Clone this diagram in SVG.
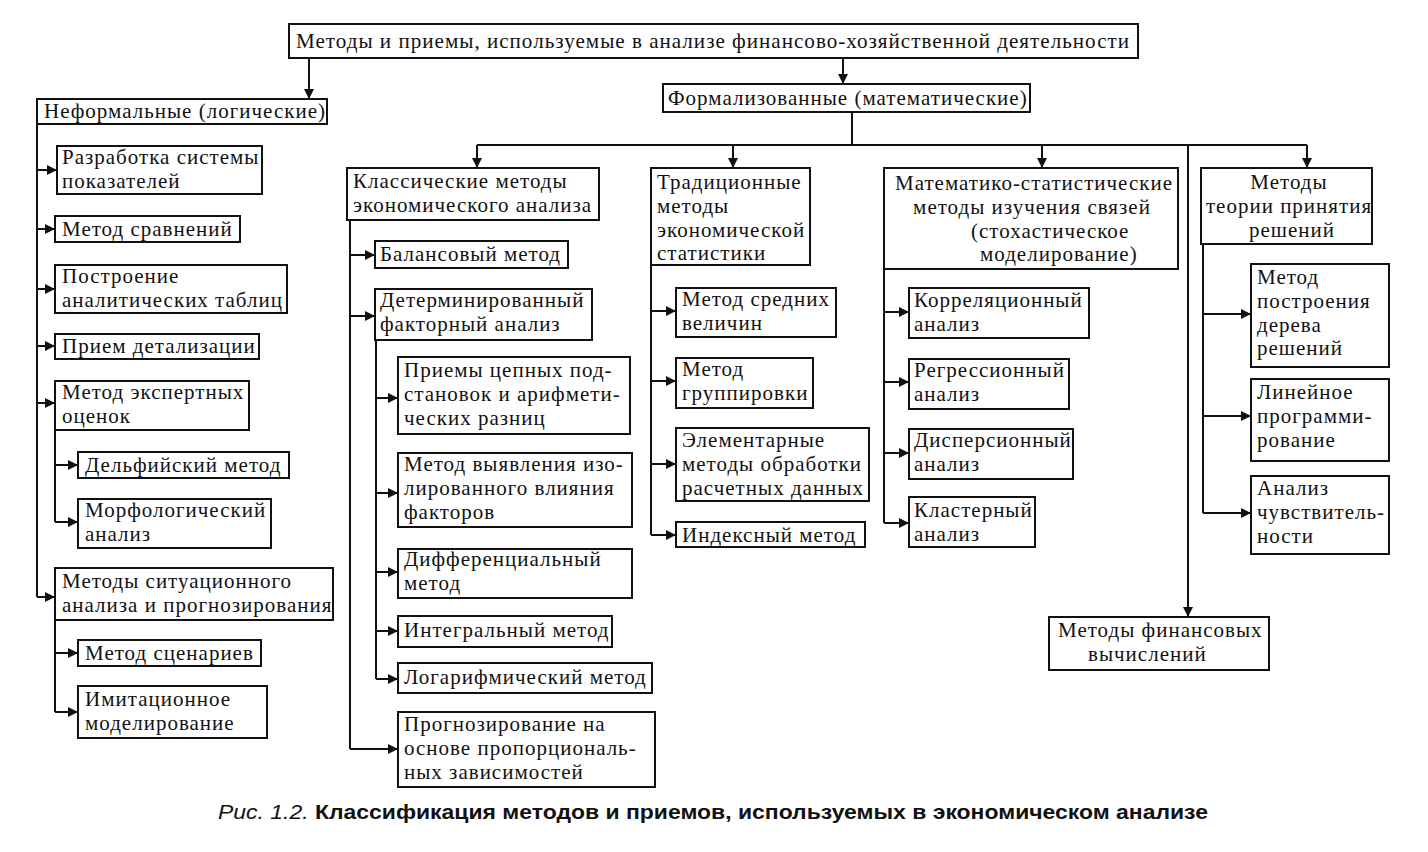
<svg xmlns="http://www.w3.org/2000/svg" width="1428" height="852" viewBox="0 0 1428 852">
<style>
.b{fill:#fff;stroke:#111;stroke-width:2}
.t{font-family:"Liberation Serif","DejaVu Serif",serif;font-size:21px;fill:#111;letter-spacing:1px}
.m{text-anchor:middle}
.c{fill:none;stroke:#111;stroke-width:2}
.cap{font-family:"Liberation Sans",Arial,sans-serif;font-size:21px;fill:#111}
</style>
<defs>
<marker id="ar" viewBox="0 0 10 10" refX="10" refY="5" markerUnits="userSpaceOnUse" markerWidth="14" markerHeight="10" orient="auto"><path d="M0,0 L10,5 L0,10 z" fill="#111"/></marker>
</defs>
<rect width="1428" height="852" fill="#fff"/>
<g id="connectors">
<path class="c" d="M309,58 V99" marker-end="url(#ar)"/>
<path class="c" d="M843,58 V84" marker-end="url(#ar)"/>
<path class="c" d="M37,124 V597"/>
<path class="c" d="M37,170 H57" marker-end="url(#ar)"/>
<path class="c" d="M37,229 H55" marker-end="url(#ar)"/>
<path class="c" d="M37,289 H55" marker-end="url(#ar)"/>
<path class="c" d="M37,346 H55" marker-end="url(#ar)"/>
<path class="c" d="M37,403 H55" marker-end="url(#ar)"/>
<path class="c" d="M37,597 H55" marker-end="url(#ar)"/>
<path class="c" d="M55,430 V522"/>
<path class="c" d="M55,465 H78" marker-end="url(#ar)"/>
<path class="c" d="M55,522 H78" marker-end="url(#ar)"/>
<path class="c" d="M55,620 V712"/>
<path class="c" d="M55,653 H78" marker-end="url(#ar)"/>
<path class="c" d="M55,712 H78" marker-end="url(#ar)"/>
<path class="c" d="M852,112 V145 M477,145 H1307"/>
<path class="c" d="M477,145 V168" marker-end="url(#ar)"/>
<path class="c" d="M733,145 V168" marker-end="url(#ar)"/>
<path class="c" d="M1042,145 V168" marker-end="url(#ar)"/>
<path class="c" d="M1307,145 V168" marker-end="url(#ar)"/>
<path class="c" d="M1188,145 V617" marker-end="url(#ar)"/>
<path class="c" d="M350,220 V749"/>
<path class="c" d="M350,255 H375" marker-end="url(#ar)"/>
<path class="c" d="M350,316 H375" marker-end="url(#ar)"/>
<path class="c" d="M350,749 H398" marker-end="url(#ar)"/>
<path class="c" d="M376,340 V679"/>
<path class="c" d="M376,398 H398" marker-end="url(#ar)"/>
<path class="c" d="M376,493 H398" marker-end="url(#ar)"/>
<path class="c" d="M376,572 H398" marker-end="url(#ar)"/>
<path class="c" d="M376,631 H398" marker-end="url(#ar)"/>
<path class="c" d="M376,679 H398" marker-end="url(#ar)"/>
<path class="c" d="M651,265 V535"/>
<path class="c" d="M651,311 H676" marker-end="url(#ar)"/>
<path class="c" d="M651,381 H676" marker-end="url(#ar)"/>
<path class="c" d="M651,464 H676" marker-end="url(#ar)"/>
<path class="c" d="M651,535 H676" marker-end="url(#ar)"/>
<path class="c" d="M884,269 V523"/>
<path class="c" d="M884,312 H909" marker-end="url(#ar)"/>
<path class="c" d="M884,382 H909" marker-end="url(#ar)"/>
<path class="c" d="M884,453 H909" marker-end="url(#ar)"/>
<path class="c" d="M884,523 H909" marker-end="url(#ar)"/>
<path class="c" d="M1203,244 V513"/>
<path class="c" d="M1203,314 H1251" marker-end="url(#ar)"/>
<path class="c" d="M1203,416 H1251" marker-end="url(#ar)"/>
<path class="c" d="M1203,513 H1251" marker-end="url(#ar)"/>
</g>
<g id="root"><rect class="b" x="289" y="24" width="849" height="34"/><text class="t" x="296" y="48" textLength="834" lengthAdjust="spacingAndGlyphs">Методы и приемы, используемые в анализе финансово-хозяйственной деятельности</text></g>
<g id="informal"><rect class="b" x="37" y="99" width="290" height="25"/><text class="t" x="44" y="118">Неформальные (логические)</text></g>
<g id="formal"><rect class="b" x="663" y="84" width="367" height="28"/><text class="t" x="668" y="105">Формализованные (математические)</text></g>
<g id="n1"><rect class="b" x="57" y="146" width="205" height="48"/><text class="t" x="62" y="164">Разработка системы</text><text class="t" x="62" y="188">показателей</text></g>
<g id="n2"><rect class="b" x="55" y="216" width="185" height="26"/><text class="t" x="62" y="236">Метод сравнений</text></g>
<g id="n3"><rect class="b" x="55" y="265" width="232" height="48"/><text class="t" x="62" y="283">Построение</text><text class="t" x="62" y="307">аналитических таблиц</text></g>
<g id="n4"><rect class="b" x="55" y="334" width="204" height="25"/><text class="t" x="62" y="353">Прием детализации</text></g>
<g id="n5"><rect class="b" x="55" y="381" width="194" height="49"/><text class="t" x="62" y="399">Метод экспертных</text><text class="t" x="62" y="423">оценок</text></g>
<g id="n6"><rect class="b" x="78" y="452" width="211" height="26"/><text class="t" x="85" y="472">Дельфийский метод</text></g>
<g id="n7"><rect class="b" x="78" y="499" width="193" height="49"/><text class="t" x="85" y="517">Морфологический</text><text class="t" x="85" y="541">анализ</text></g>
<g id="n8"><rect class="b" x="55" y="568" width="278" height="52"/><text class="t" x="62" y="588">Методы ситуационного</text><text class="t" x="62" y="612">анализа и прогнозирования</text></g>
<g id="n9"><rect class="b" x="78" y="640" width="183" height="26"/><text class="t" x="85" y="660">Метод сценариев</text></g>
<g id="n10"><rect class="b" x="78" y="686" width="189" height="52"/><text class="t" x="85" y="706">Имитационное</text><text class="t" x="85" y="730">моделирование</text></g>
<g id="classic"><rect class="b" x="347" y="168" width="252" height="52"/><text class="t" x="353" y="188">Классические методы</text><text class="t" x="353" y="212">экономического анализа</text></g>
<g id="c1"><rect class="b" x="375" y="241" width="193" height="27"/><text class="t" x="380" y="261">Балансовый метод</text></g>
<g id="c2"><rect class="b" x="375" y="289" width="217" height="51"/><text class="t" x="380" y="307">Детерминированный</text><text class="t" x="380" y="331">факторный анализ</text></g>
<g id="c3"><rect class="b" x="398" y="357" width="232" height="77"/><text class="t" x="404" y="377">Приемы цепных под-</text><text class="t" x="404" y="401">становок и арифмети-</text><text class="t" x="404" y="425">ческих разниц</text></g>
<g id="c4"><rect class="b" x="398" y="453" width="234" height="74"/><text class="t" x="404" y="471">Метод выявления изо-</text><text class="t" x="404" y="495">лированного влияния</text><text class="t" x="404" y="519">факторов</text></g>
<g id="c5"><rect class="b" x="398" y="549" width="234" height="49"/><text class="t" x="404" y="566">Дифференциальный</text><text class="t" x="404" y="590">метод</text></g>
<g id="c6"><rect class="b" x="398" y="616" width="214" height="31"/><text class="t" x="404" y="637">Интегральный метод</text></g>
<g id="c7"><rect class="b" x="398" y="663" width="254" height="30"/><text class="t" x="404" y="684">Логарифмический метод</text></g>
<g id="c8"><rect class="b" x="398" y="712" width="257" height="75"/><text class="t" x="404" y="731">Прогнозирование на</text><text class="t" x="404" y="755">основе пропорциональ-</text><text class="t" x="404" y="779">ных зависимостей</text></g>
<g id="trad"><rect class="b" x="651" y="168" width="159" height="97"/><text class="t" x="657" y="189">Традиционные</text><text class="t" x="657" y="213">методы</text><text class="t" x="657" y="237">экономической</text><text class="t" x="657" y="260">статистики</text></g>
<g id="t1"><rect class="b" x="676" y="288" width="160" height="49"/><text class="t" x="682" y="306">Метод средних</text><text class="t" x="682" y="330">величин</text></g>
<g id="t2"><rect class="b" x="676" y="358" width="137" height="50"/><text class="t" x="682" y="376">Метод</text><text class="t" x="682" y="400">группировки</text></g>
<g id="t3"><rect class="b" x="676" y="428" width="193" height="73"/><text class="t" x="682" y="447">Элементарные</text><text class="t" x="682" y="471">методы обработки</text><text class="t" x="682" y="495">расчетных данных</text></g>
<g id="t4"><rect class="b" x="676" y="522" width="189" height="25"/><text class="t" x="682" y="542">Индексный метод</text></g>
<g id="stat"><rect class="b" x="884" y="168" width="294" height="101"/><text class="t m" x="1034" y="190">Математико-статистические</text><text class="t m" x="1032" y="214">методы изучения связей</text><text class="t" x="971" y="238">(стохастическое</text><text class="t" x="980" y="261">моделирование)</text></g>
<g id="s1"><rect class="b" x="909" y="288" width="180" height="50"/><text class="t" x="914" y="307">Корреляционный</text><text class="t" x="914" y="331">анализ</text></g>
<g id="s2"><rect class="b" x="909" y="359" width="160" height="50"/><text class="t" x="914" y="377">Регрессионный</text><text class="t" x="914" y="401">анализ</text></g>
<g id="s3"><rect class="b" x="909" y="429" width="164" height="50"/><text class="t" x="914" y="447">Дисперсионный</text><text class="t" x="914" y="471">анализ</text></g>
<g id="s4"><rect class="b" x="909" y="497" width="126" height="50"/><text class="t" x="914" y="517">Кластерный</text><text class="t" x="914" y="541">анализ</text></g>
<g id="dec"><rect class="b" x="1201" y="168" width="171" height="76"/><text class="t m" x="1289" y="189">Методы</text><text class="t m" x="1289" y="213">теории принятия</text><text class="t m" x="1292" y="237">решений</text></g>
<g id="d1"><rect class="b" x="1251" y="264" width="138" height="103"/><text class="t" x="1257" y="284">Метод</text><text class="t" x="1257" y="308">построения</text><text class="t" x="1257" y="332">дерева</text><text class="t" x="1257" y="355">решений</text></g>
<g id="d2"><rect class="b" x="1251" y="379" width="138" height="82"/><text class="t" x="1257" y="399">Линейное</text><text class="t" x="1257" y="423">программи-</text><text class="t" x="1257" y="447">рование</text></g>
<g id="d3"><rect class="b" x="1251" y="476" width="138" height="78"/><text class="t" x="1257" y="495">Анализ</text><text class="t" x="1257" y="519">чувствитель-</text><text class="t" x="1257" y="543">ности</text></g>
<g id="fin"><rect class="b" x="1049" y="617" width="220" height="53"/><text class="t" x="1058" y="637">Методы финансовых</text><text class="t" x="1088" y="661">вычислений</text></g>
<text class="cap" x="218" y="819" textLength="990" lengthAdjust="spacingAndGlyphs"><tspan font-style="italic">Рис. 1.2.</tspan><tspan font-weight="bold"> Классификация методов и приемов, используемых в экономическом анализе</tspan></text>
</svg>
